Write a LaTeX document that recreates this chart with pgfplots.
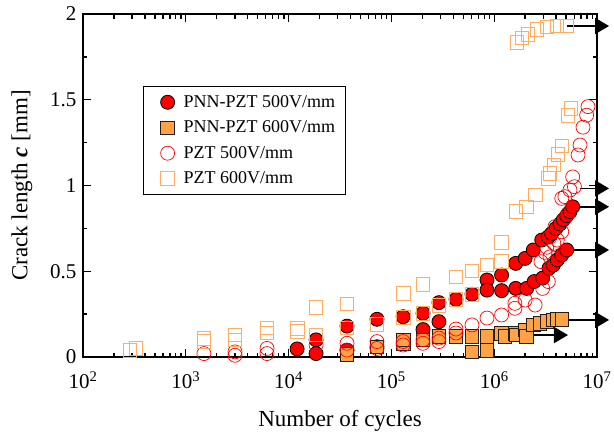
\documentclass[border=0pt]{standalone}
\usepackage{fontspec}
\setmainfont{Liberation Serif}
\usepackage{pgfplots}
\pgfplotsset{compat=1.18}
\usetikzlibrary{arrows.meta}
\definecolor{fillorange}{RGB}{255,163,70}
\definecolor{lineorange}{RGB}{255,172,96}
\definecolor{darkedge}{RGB}{40,30,20}
\begin{document}
\begin{tikzpicture}
\begin{axis}[
  scale only axis, width=514pt, height=343pt,
  xmode=log, xmin=100, xmax=1e7, ymin=0, ymax=2,
  xtick={100,1000,10000,100000,1000000,10000000},
  xticklabels={10\textsuperscript{2},10\textsuperscript{3},10\textsuperscript{4},10\textsuperscript{5},10\textsuperscript{6},10\textsuperscript{7}},
  ytick={0,0.5,1,1.5,2}, yticklabels={0,0.5,1,1.5,2},
  minor ytick={0.25,0.75,1.25,1.75},
  tick align=inside,
  major tick length=8pt, minor tick length=4.5pt,
  tick style={black, line width=1.3pt},
  axis line style={line width=2.8pt},
  tick label style={font=\fontsize{21}{21}\selectfont},
  xticklabel style={yshift=-11pt},
  yticklabel style={xshift=-3pt},
  label style={font=\fontsize{23}{23}\selectfont},
  xlabel={Number of cycles},
  ylabel={Crack length \textbf{\textit{c}} [mm]},
  xlabel style={at={(axis description cs:0.5,-0.186)}, anchor=center},
  ylabel style={at={(axis description cs:-0.119,0.5)}, anchor=center},
  clip=false,
  legend cell align=left,
  legend image code/.code={%
    \path[draw=none,fill=none] (0pt,-7pt) rectangle (30pt,7pt);
    \draw[#1] plot coordinates {(16pt,0pt)};},
  legend style={at={(axis description cs:0.117,0.79)}, anchor=north west,
    draw=black, line width=1pt, font=\fontsize{18}{20}\selectfont,
    inner xsep=8pt, inner ysep=7pt, row sep=8pt},
]
% PNN-PZT 500V/mm
\addplot[only marks, mark=*, mark size=7pt, mark options={fill=red, draw=black, line width=0.8pt}]
  coordinates {
  (1.21e4,0.047)(1.85e4,0.10)(1.85e4,0.02)(3.70e4,0.18)(3.70e4,0.04)
  (7.24e4,0.22)(7.24e4,0.06)(1.30e5,0.235)(1.30e5,0.08)(2.03e5,0.255)(2.03e5,0.16)
  (2.90e5,0.317)(2.90e5,0.206)(4.25e5,0.336)(6.08e5,0.366)(8.51e5,0.449)(8.51e5,0.39)
  (1.18e6,0.478)(1.18e6,0.387)
  (1.62e6,0.546)(2.00e6,0.575)(2.40e6,0.624)(2.90e6,0.682)(3.36e6,0.70)(3.62e6,0.72)
  (3.99e6,0.75)(4.37e6,0.776)(4.70e6,0.80)(5.07e6,0.824)(5.46e6,0.847)(5.80e6,0.876)
  (1.62e6,0.40)(2.07e6,0.40)(2.45e6,0.44)(2.96e6,0.46)(3.41e6,0.517)(3.76e6,0.536)
  (4.11e6,0.566)(4.54e6,0.595)(5.07e6,0.624)
  };
% PNN-PZT 600V/mm
\addplot[only marks, mark=square*, mark size=6.8pt, mark options={fill=fillorange, draw=darkedge, line width=0.8pt}]
  coordinates {
  (3.70e4,0.015)(7.24e4,0.06)(1.30e5,0.08)(1.30e5,0.10)(2.03e5,0.10)(2.90e5,0.12)
  (4.25e5,0.12)(6.08e5,0.12)(6.08e5,0.03)(8.51e5,0.12)(8.51e5,0.04)
  (1.18e6,0.138)(1.27e6,0.12)(1.59e6,0.138)(1.65e6,0.128)(2.00e6,0.157)(2.07e6,0.12)
  (2.40e6,0.187)(2.79e6,0.196)(3.27e6,0.206)(3.74e6,0.216)(4.11e6,0.22)(4.54e6,0.22)
  };
% PZT 500V/mm
\addplot[only marks, mark=o, mark size=7pt, mark options={draw=red, line width=0.7pt}]
  coordinates {
  (1.50e3,0.02)(3.01e3,0.03)(3.01e3,0.01)(6.17e3,0.05)(6.17e3,0.02)(1.85e4,0.07)
  (3.70e4,0.08)(3.70e4,0.04)(7.24e4,0.09)(7.24e4,0.05)(1.30e5,0.09)(1.30e5,0.07)
  (2.03e5,0.10)(2.03e5,0.08)(2.90e5,0.11)(2.90e5,0.09)(4.25e5,0.14)(4.25e5,0.163)
  (6.08e5,0.187)(8.51e5,0.227)(1.18e6,0.245)(1.59e6,0.284)(1.59e6,0.313)(2.00e6,0.332)
  (2.50e6,0.303)(2.96e6,0.40)(3.36e6,0.44)
  (2.85e6,0.556)(3.49e6,0.584)(3.80e6,0.663)(4.11e6,0.682)(4.54e6,0.73)(4.87e6,0.81)
  (5.22e6,0.837)(3.12e6,0.61)(3.24e6,0.64)(3.49e6,0.70)(3.90e6,0.76)
  (4.54e6,0.925)(4.87e6,0.935)(5.46e6,0.974)(6.03e6,0.993)(5.80e6,1.05)(6.54e6,1.178)
  (6.84e6,1.236)(7.31e6,1.34)(7.93e6,1.41)(8.17e6,1.46)
  };
% PZT 600V/mm
\addplot[only marks, mark=square, mark size=6.8pt, mark options={draw=lineorange, line width=0.8pt}]
  coordinates {
  (286,0.04)(328,0.05)(1.50e3,0.09)(1.50e3,0.11)(3.01e3,0.10)(3.01e3,0.13)
  (6.17e3,0.14)(6.17e3,0.17)(1.21e4,0.15)(1.21e4,0.167)(1.85e4,0.29)(1.85e4,0.13)
  (3.70e4,0.31)(3.70e4,0.17)(7.24e4,0.19)(1.30e5,0.37)(1.30e5,0.23)(2.03e5,0.425)
  (2.03e5,0.255)(2.90e5,0.30)(4.25e5,0.468)(4.25e5,0.336)(6.08e5,0.503)(6.08e5,0.366)
  (8.51e5,0.536)(1.18e6,0.556)(1.18e6,0.669)(1.62e6,0.85)(2.07e6,0.876)(2.50e6,0.945)
  (3.38e6,1.04)(3.49e6,1.07)(3.80e6,1.12)(4.18e6,1.18)(4.54e6,1.23)(5.22e6,1.41)(5.59e6,1.45)
  (1.67e6,1.835)(1.86e6,1.86)(2.13e6,1.88)(2.61e6,1.91)(3.27e6,1.925)(4.08e6,1.93)(5.10e6,1.93)
  };
\legend{PNN-PZT 500V/mm, PNN-PZT 600V/mm, PZT 500V/mm, PZT 600V/mm}
% run-out arrows
\addplot[black, line width=1.8pt, -{Triangle[length=14pt,width=16pt]}, forget plot] coordinates {(5.10e6,1.93)(1.31e7,1.93)};
\addplot[black, line width=1.8pt, -{Triangle[length=14pt,width=16pt]}, forget plot] coordinates {(6.84e6,0.983)(1.31e7,0.983)};
\addplot[black, line width=1.8pt, -{Triangle[length=14pt,width=16pt]}, forget plot] coordinates {(5.80e6,0.876)(1.31e7,0.876)};
\addplot[black, line width=1.8pt, -{Triangle[length=14pt,width=16pt]}, forget plot] coordinates {(5.07e6,0.624)(1.31e7,0.624)};
\addplot[black, line width=1.8pt, -{Triangle[length=14pt,width=16pt]}, forget plot] coordinates {(4.54e6,0.216)(1.31e7,0.216)};
\addplot[black, line width=1.8pt, -{Triangle[length=14pt,width=16pt]}, forget plot] coordinates {(2.40e6,0.128)(5.22e6,0.128)};
\end{axis}
\pgfresetboundingbox
\path (current axis.south west) ++(-83pt,-75pt) rectangle ++(614pt,432pt);
\end{tikzpicture}
\end{document}
